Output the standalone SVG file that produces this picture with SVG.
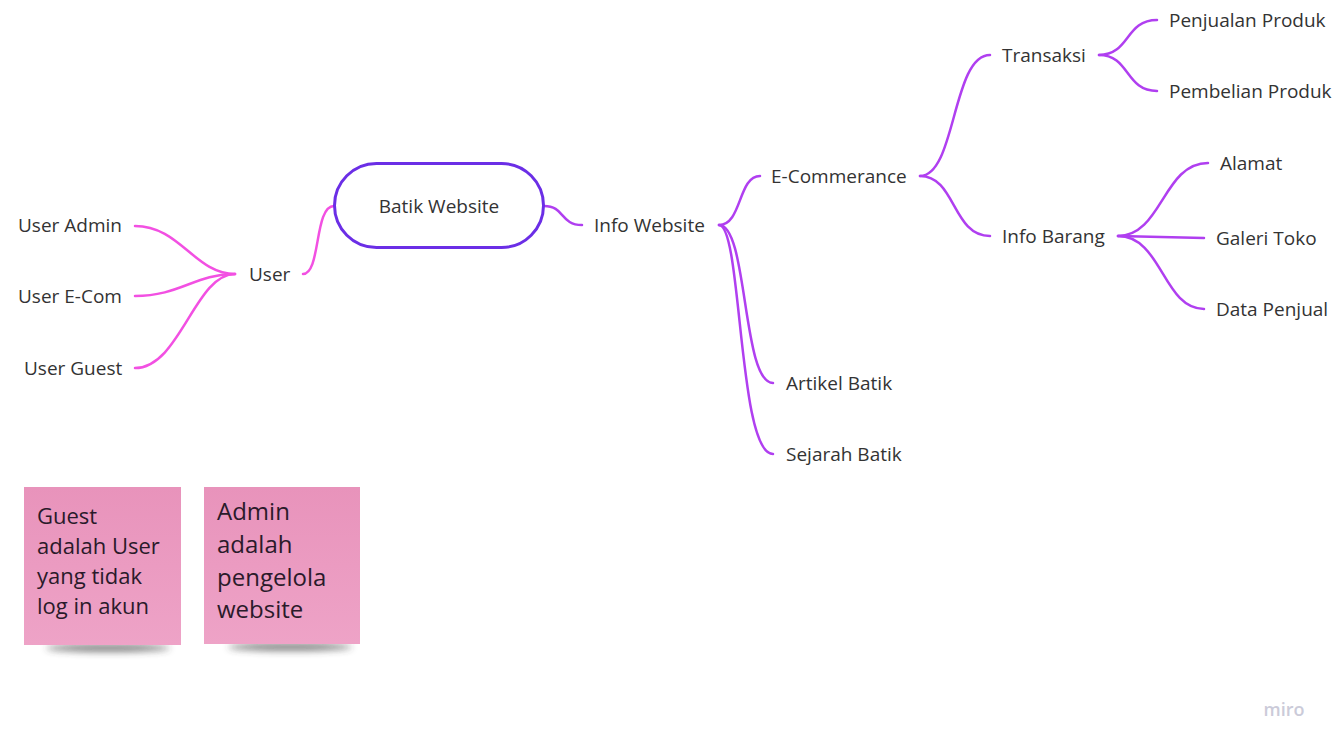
<svg xmlns="http://www.w3.org/2000/svg" width="1337" height="747" viewBox="0 0 1337 747">
<style>
.t{font-family:"Open Sans","Noto Sans",sans-serif;font-size:19px;fill:#333333}
.c{fill:none;stroke-width:2.5;stroke-linecap:round}
.pk{stroke:#f250e2}
.pu{stroke:#b03ff0}
.nt{font-family:"Open Sans","Noto Sans",sans-serif;fill:#2a1a2a}
</style>
<defs>
<linearGradient id="ng" x1="0" y1="0" x2="0" y2="1">
<stop offset="0" stop-color="#e893bb"/>
<stop offset="1" stop-color="#eea3c7"/>
</linearGradient>
<filter id="sh" x="-30%" y="-200%" width="160%" height="500%">
<feGaussianBlur stdDeviation="3.5"/>
</filter>
</defs>
<rect width="1337" height="747" fill="#ffffff"/>
<g id="connectors">
<path class="c pk" d="M135,226 C180,226 195,274 235,274"/>
<path class="c pk" d="M135,296 C180,296 195,274 235,274"/>
<path class="c pk" d="M135,368 C180,368 195,274 235,274"/>
<path class="c pk" d="M303,274 C321,274 314,206 334,206"/>
<path class="c pu" d="M544,206 C565,206 560,225 582,225"/>
<path class="c pu" d="M719,225 C742,225 738,176 760,176"/>
<path class="c pu" d="M719,225 C748,225 742,383 773,383"/>
<path class="c pu" d="M719,225 C742,225 738,454 773,454"/>
<path class="c pu" d="M920,176 C956,176 952,55 990,55"/>
<path class="c pu" d="M920,176 C956,176 952,236 990,236"/>
<path class="c pu" d="M1099,55 C1130,55 1125,20 1157,20"/>
<path class="c pu" d="M1099,55 C1130,55 1125,91 1157,91"/>
<path class="c pu" d="M1118,236 C1162,236 1163,163 1208,163"/>
<path class="c pu" d="M1118,236 L1204,238"/>
<path class="c pu" d="M1118,236 C1162,236 1163,309 1204,309"/>
</g>
<g id="n-batik">
<rect x="334.5" y="163.5" width="209" height="84" rx="42" fill="#ffffff" stroke="#6b2ee6" stroke-width="3"/>
<text class="t" x="439" y="213" text-anchor="middle" font-size="18">Batik Website</text>
</g>
<g id="n-user"><text class="t" x="249" y="281">User</text></g>
<g id="n-admin"><text class="t" x="18" y="232">User Admin</text></g>
<g id="n-ecom"><text class="t" x="18" y="303">User E-Com</text></g>
<g id="n-guest"><text class="t" x="24" y="375">User Guest</text></g>
<g id="n-info"><text class="t" x="594" y="232">Info Website</text></g>
<g id="n-ecommerance"><text class="t" x="771" y="183">E-Commerance</text></g>
<g id="n-artikel"><text class="t" x="786" y="390">Artikel Batik</text></g>
<g id="n-sejarah"><text class="t" x="786" y="461">Sejarah Batik</text></g>
<g id="n-transaksi"><text class="t" x="1002" y="62">Transaksi</text></g>
<g id="n-infobarang"><text class="t" x="1002" y="243">Info Barang</text></g>
<g id="n-penjualan"><text class="t" x="1169" y="27">Penjualan Produk</text></g>
<g id="n-pembelian"><text class="t" x="1169" y="98">Pembelian Produk</text></g>
<g id="n-alamat"><text class="t" x="1220" y="170">Alamat</text></g>
<g id="n-galeri"><text class="t" x="1216" y="245">Galeri Toko</text></g>
<g id="n-data"><text class="t" x="1216" y="316">Data Penjual</text></g>
<g id="note-guest">
<ellipse cx="108" cy="648" rx="62" ry="4" fill="#333" opacity="0.6" filter="url(#sh)"/>
<rect x="24" y="487" width="157" height="158" fill="url(#ng)"/>
<text class="nt" font-size="22" x="37" y="524">Guest</text>
<text class="nt" font-size="22" x="37" y="554">adalah User</text>
<text class="nt" font-size="22" x="37" y="584">yang tidak</text>
<text class="nt" font-size="22" x="37" y="614">log in akun</text>
</g>
<g id="note-admin">
<ellipse cx="290" cy="647" rx="62" ry="4" fill="#333" opacity="0.6" filter="url(#sh)"/>
<rect x="204" y="487" width="156" height="157" fill="url(#ng)"/>
<text class="nt" font-size="24" x="217" y="520">Admin</text>
<text class="nt" font-size="24" x="217" y="553">adalah</text>
<text class="nt" font-size="24" x="217" y="586">pengelola</text>
<text class="nt" font-size="24" x="217" y="618">website</text>
</g>
<text x="1284" y="716" text-anchor="middle" font-family="Open Sans, sans-serif" font-size="18" font-weight="600" fill="#cbcbd9">miro</text>
</svg>
